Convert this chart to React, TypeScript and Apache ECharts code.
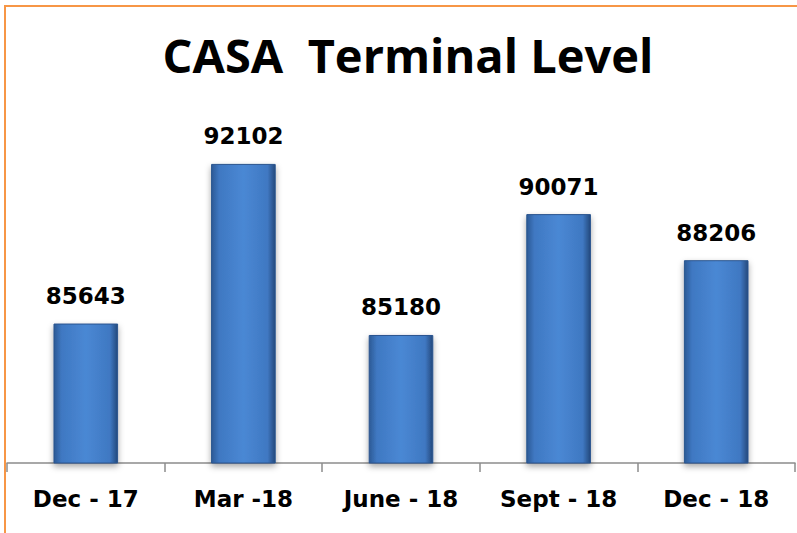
import React, { useEffect, useRef } from "react";
import * as echarts from "echarts";

const categories = ["Dec - 17", "Mar -18", "June - 18", "Sept - 18", "Dec - 18"];
const values = [85643, 92102, 85180, 90071, 88206];
const titleText = "CASA  Terminal Level";

export default function App() {
  const ref = useRef<HTMLDivElement>(null);
  useEffect(() => {
    if (!ref.current) return;
    const chart = echarts.init(ref.current, undefined, { renderer: "svg" });
    const titleFont = "'Open Sans', 'DejaVu Sans', sans-serif";
    const font = "'DejaVu Sans', sans-serif";
    chart.setOption({
      animation: false,
      backgroundColor: "#ffffff",
      title: {
        text: titleText,
        left: 403,
        textAlign: "center",
        top: 26,
        textStyle: { fontFamily: titleFont, fontWeight: "bold", fontSize: 47, color: "#000" },
      },
      graphic: [
        {
          type: "rect",
          shape: { x: 5, y: 6, width: 820, height: 560 },
          style: { fill: "none", stroke: "#F79646", lineWidth: 2 },
          silent: true,
        },
      ],
      grid: { left: 7, right: 2, top: 117, bottom: 70, containLabel: false },
      xAxis: {
        type: "category",
        data: categories,
        axisLine: { show: true, lineStyle: { color: "#8c8c8c", width: 1.5 } },
        axisTick: { show: true, length: 9, alignWithLabel: false, lineStyle: { color: "#8c8c8c", width: 1.5 } },
        axisLabel: { fontFamily: font, fontWeight: "bold", fontSize: 23, color: "#000", margin: 24 },
      },
      yAxis: {
        type: "value",
        min: 80000,
        max: 94000,
        show: false,
        splitLine: { show: false },
      },
      series: [
        {
          type: "bar",
          data: values,
          barWidth: "41%",
          itemStyle: {
            color: new echarts.graphic.LinearGradient(0, 0, 1, 0, [
              { offset: 0, color: "#2c5a96" },
              { offset: 0.12, color: "#3f78c2" },
              { offset: 0.5, color: "#4a88d4" },
              { offset: 0.88, color: "#3f78c2" },
              { offset: 1, color: "#24497c" },
            ]),
            borderColor: "#2a558f",
            borderWidth: 1,
            shadowColor: "rgba(0,0,0,0.35)",
            shadowBlur: 6,
            shadowOffsetY: 3,
          },
          label: {
            show: true,
            position: "top",
            distance: 16,
            fontFamily: font,
            fontWeight: "bold",
            fontSize: 23,
            color: "#000",
          },
        },
      ],
    });
    return () => chart.dispose();
  }, []);
  return (
    <div
      ref={ref}
      style={{ position: "fixed", left: 0, top: 0, width: 797, height: 533 }}
    />
  );
}
